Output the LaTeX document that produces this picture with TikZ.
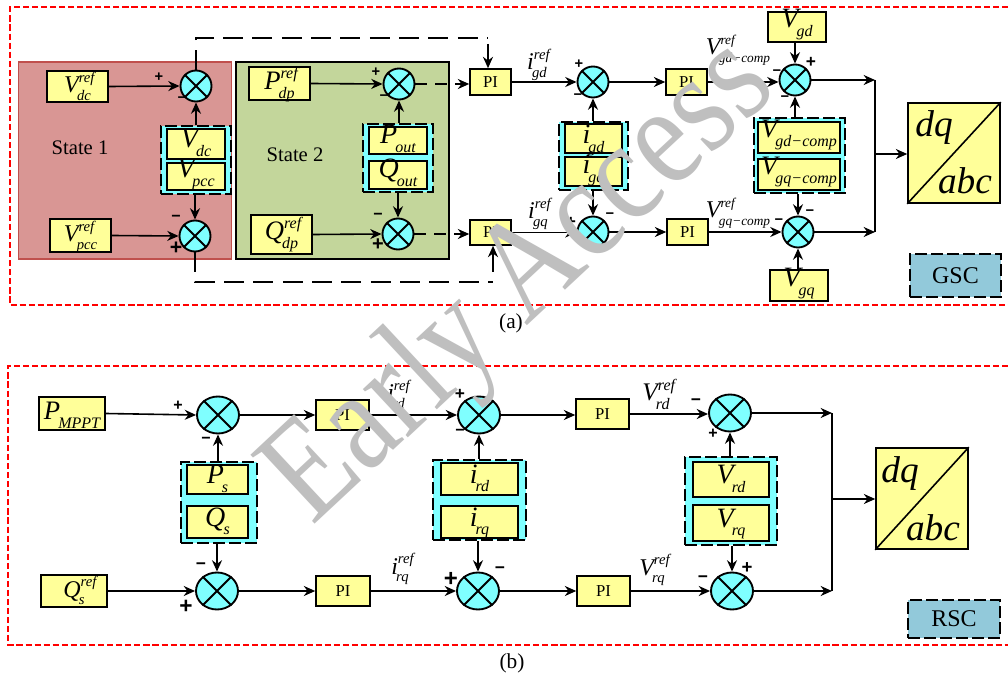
\documentclass[tikz,border=0pt]{standalone}
\usepackage{fontspec}
\setmainfont{Liberation Serif}
\newfontfamily\sgnfont{Liberation Sans}
\usetikzlibrary{arrows.meta,shapes.geometric}
\definecolor{cy}{HTML}{7FFFFF}
\definecolor{yb}{HTML}{FFFF99}
\definecolor{st1}{HTML}{D99694}
\definecolor{st1b}{HTML}{C0504D}
\definecolor{st2}{HTML}{C3D69B}
\definecolor{tag}{HTML}{92C9DA}
\definecolor{wm}{HTML}{BFBFBF}
\tikzset{
  ybox/.style={draw=black,fill=yb,line width=1.2pt,inner sep=0pt},
  grp/.style={draw=black,fill=cy,line width=1.3pt,dash pattern=on 9pt off 3pt,inner sep=0pt},
  tagbox/.style={draw=black,fill=tag,line width=1.3pt,dash pattern=on 9pt off 3pt,inner sep=0pt,font=\fontsize{18}{18}\selectfont},
  st1box/.style={draw=st1b,fill=st1,line width=1pt,inner sep=0pt},
  st2box/.style={draw=black,fill=st2,line width=1.2pt,inner sep=0pt},
  pibox/.style={ybox,font=\fontsize{12.5}{13}\selectfont},
  frame/.style={draw=red,line width=1.7pt,dash pattern=on 4.6pt off 2.2pt},
  conn/.style={line width=1.2pt,-{Stealth[length=8.5pt,width=7.5pt]}},
  plainl/.style={line width=1.2pt},
  dashl/.style={line width=1.2pt,dash pattern=on 15pt off 7pt},
  dasharr/.style={conn,dash pattern=on 9pt off 6pt},
  sumn/.style={ellipse,draw=black,fill=cy,line width=1.4pt,inner sep=0pt},
  capt/.style={font=\fontsize{16}{16}\selectfont,inner sep=0pt},
  free/.style={inner sep=0pt},
}
% coordinates are pixels of the reference
\newcommand{\mybx}[7]{%
  \pgfmathsetmacro\bxcx{(#3+#5)/2}\pgfmathsetmacro\bxcy{(#4+#6)/2}%
  \pgfmathsetmacro\bxw{(#5-#3)*0.75}\pgfmathsetmacro\bxh{(#6-#4)*0.75}%
  \node[#1,minimum width=\bxw pt,minimum height=\bxh pt] (#2) at (\bxcx,\bxcy) {#7};}
\newcommand{\mysum}[5]{%
  \pgfmathsetmacro\bxw{#4*0.75}\pgfmathsetmacro\bxh{#5*0.75}%
  \node[sumn,minimum width=\bxw pt,minimum height=\bxh pt] (#1) at (#2,#3) {};
  \draw[line width=1.4pt] (#1.45) -- (#1.225) (#1.135) -- (#1.315);}
\newcommand{\mysg}[5]{\node[inner sep=0pt,font=\sgnfont\bfseries\fontsize{#4}{#4}\selectfont] (#1) at (#2,#3) {#5};}
% text with sub/superscripts: baseline set dy px below the node centre; no height of its own
\newcommand{\lbx}[6]{% bsize ssize base sup sub dy
  \raisebox{\dimexpr -#6\dimexpr 0.75pt\relax\relax}[0pt][0pt]{\itshape
    \fontsize{#1}{#1}\selectfont #3%
    \setbox0=\hbox{\fontsize{#2}{#2}\selectfont #4}%
    \setbox1=\hbox{\fontsize{#2}{#2}\selectfont\kern -0.12em #5}%
    \rlap{\raisebox{0.42em}{\box0}}\raisebox{-0.32em}{\box1}}}
\newcommand{\ra}[4][]{\lbx{18}{11}{#2}{#3}{#4}{#1}}
\newcommand{\ga}[3][8]{\lbx{21}{12}{#2}{}{#3}{#1}}
\begin{document}
\begin{tikzpicture}[x=0.75pt,y=-0.75pt]
\useasboundingbox (0,0) rectangle (1008,681);
\fill[white] (0,0) rectangle (1008,681);
% frames
\coordinate (fa1) at (1008,7); \coordinate (fa2) at (10,7); \coordinate (fa3) at (10,305); \coordinate (fa4) at (1008,305);
\draw[frame] (fa1) -- (fa2) -- (fa3) -- (fa4);
\coordinate (fb1) at (1008,366); \coordinate (fb2) at (8,366); \coordinate (fb3) at (8,645); \coordinate (fb4) at (1008,645);
\draw[frame] (fb1) -- (fb2) -- (fb3) -- (fb4);
% states
\mybx{st1box}{stA}{18.5}{62}{231.5}{259}{}
\mybx{st2box}{stB}{236}{62}{449}{259}{}
\node[free,font=\fontsize{15.5}{16}\selectfont] (stAt) at (80,148) {State 1};
\node[free,font=\fontsize{15.5}{16}\selectfont] (stBt) at (295,155) {State 2};
% ---------- panel (a)
\mybx{ybox}{vdcr}{47}{71}{108}{102}{\ra[6]{V}{ref}{dc}}
\mybx{ybox}{vpcr}{50}{219}{111}{252}{\ra[6]{V}{ref}{pcc}}
\mybx{grp}{g1}{161}{126}{231}{194}{}
\mybx{ybox}{vdc}{167}{129}{225}{159}{\ga[4]{V}{dc}}
\mybx{ybox}{vpc}{167}{163}{225}{190}{\ga[1]{V}{pcc}}
\mysum{sA}{196}{86}{31}{31}
\mysum{sB}{195}{236}{31}{31}
\mybx{ybox}{pdr}{249}{67}{310}{100}{\lbx{20}{12}{P}{ref}{dp}{6}}
\mybx{ybox}{qdr}{251}{215}{312}{254}{\lbx{20}{12}{Q}{ref}{dp}{5}}
\mybx{grp}{g2}{363}{124}{433}{192}{}
\mybx{ybox}{pou}{369}{127}{427}{154}{\ga[3]{P}{out}}
\mybx{ybox}{qou}{369}{161}{427}{189}{\ga[3]{Q}{out}}
\mysum{sC}{399}{84}{31}{31}
\mysum{sD}{398}{234}{31}{31}
\mybx{pibox}{pi1}{470}{69}{511}{95}{PI}
\mybx{pibox}{pi2}{470}{220}{511}{245}{PI}
\mysum{sE}{593}{82}{31}{31}
\mysum{sG}{593}{232}{31}{31}
\mybx{grp}{g3}{559}{122}{628}{190}{}
\mybx{ybox}{igd}{565}{124}{622}{153}{\ga[5]{i}{gd}}
\mybx{ybox}{igq}{565}{157}{622}{186}{\ga[2]{i}{gq}}
\mybx{pibox}{pi3}{666}{69}{707}{95}{PI}
\mybx{pibox}{pi4}{667}{219}{708}{245}{PI}
\mysum{sF}{795}{80}{31}{31}
\mysum{sH}{798}{232}{31}{31}
\mybx{ybox}{vgd}{768}{12}{826}{42}{\ga[1]{V}{gd}}
\mybx{ybox}{vgq}{770}{270}{828}{301}{\ga[1]{V}{gq}}
\mybx{grp}{g4}{754}{118}{845}{193}{}
\mybx{ybox}{vgc}{758}{122}{840}{153}{\lbx{20}{12}{V}{}{gd−comp}{0}}
\mybx{ybox}{vqc}{758}{159}{840}{190}{\lbx{20}{12}{V}{}{gq−comp}{0}}
\mybx{ybox}{dq1}{908}{103}{1000}{203}{}
\node[free,font=\itshape\fontsize{28}{28}\selectfont,anchor=base] (dq1a) at (934,137) {dq};
\node[free,font=\itshape\fontsize{28}{28}\selectfont,anchor=base] (dq1b) at (965,194) {abc};
\draw[line width=1.2pt] (dq1.south west) -- (dq1.north east);
\mybx{tagbox}{gsc}{910}{254}{1001}{297}{GSC}
\node[capt] (capa) at (511,323) {(a)};
% labels
\node[free] (l1) at (537,70) {\lbx{18}{11}{i}{ref}{gd}{0}};
\node[free] (l2) at (538,219) {\lbx{18}{11}{i}{ref}{gq}{0}};
\node[free] (l3) at (738,55) {\lbx{18}{10}{V}{ref}{gd−comp}{0}};
\node[free] (l4) at (738,218) {\lbx{18}{10}{V}{ref}{gq−comp}{0}};
% connectors (a)
\draw[conn] (vdcr.east) -- (sA.west);
\draw[conn] (vpcr.east) -- (sB.west);
\draw[conn] (g1.north -| sA) -- (sA.south);
\draw[conn] (g1.south -| sB) -- (sB.north);
\draw[conn] (pdr.east) -- (sC.west);
\draw[conn] (qdr.east) -- (sD.west);
\draw[conn] (g2.north -| sC) -- (sC.south);
\draw[conn] (g2.south -| sD) -- (sD.north);
\draw[dasharr] (sC.east) -- (sC.east -| pi1.west);
\draw[dasharr] (sD.east) -- (sD.east -| pi2.west);
\coordinate (t1) at (488,44); \coordinate (t2) at (488,38);
\coordinate (b1) at (493,272); \coordinate (b2) at (493,282);
\draw[dashl] (sA.north) -- (sA.north |- t2) -- (t2);
\draw[dashl] (sB.south) -- (sB.south |- b2) -- (b2);
\draw[conn] (t1) -- (t1 |- pi1.north);
\draw[conn] (b1) -- (b1 |- pi2.south);
\draw[conn] (pi1.east) -- (pi1.east -| sE.west);
\draw[conn] (pi2.east) -- (pi2.east -| sG.west);
\draw[conn] (sE.east) -- (sE.east -| pi3.west);
\draw[conn] (sG.east) -- (sG.east -| pi4.west);
\draw[conn] (pi3.east) -- (pi3.east -| sF.west);
\draw[conn] (pi4.east) -- (pi4.east -| sH.west);
\draw[conn] (g3.north -| sE) -- (sE.south);
\draw[conn] (g3.south -| sG) -- (sG.north);
\draw[conn] (vgd.south -| sF) -- (sF.north);
\draw[conn] (vgq.north -| sH) -- (sH.south);
\draw[conn] (g4.north -| sF) -- (sF.south);
\draw[conn] (g4.south -| sH) -- (sH.north);
\coordinate (ja) at (875,154);
\draw[conn] (sF.east) -- (sF.east -| ja);
\draw[conn] (sH.east) -- (sH.east -| ja);
\draw[plainl] (sF.east -| ja) -- (sH.east -| ja);
\draw[conn] (ja) -- (ja -| dq1.west);
% signs (a)
\mysg{a1}{159}{77}{11}{+}\mysg{a2}{182}{100}{11}{−}
\mysg{a3}{176}{218}{12}{−}\mysg{a4}{176}{248}{16}{+}
\mysg{a5}{376}{72}{11}{+}\mysg{a6}{384}{98}{11}{−}
\mysg{a7}{378}{216}{12}{−}\mysg{a8}{378}{245}{15}{+}
\mysg{a9}{579}{64}{11}{+}\mysg{a10}{578}{97}{11}{−}
\mysg{a11}{811}{62}{13}{+}\mysg{a12}{777}{73}{11}{−}\mysg{a13}{785}{99}{11}{−}
\mysg{a14}{571}{222}{13}{+}\mysg{a15}{610}{216}{11}{−}
\mysg{a16}{779}{222}{11}{−}\mysg{a17}{810}{213}{11}{−}
% ---------- panel (b)
\mybx{ybox}{pm}{39}{397}{105}{430}{\lbx{20}{12}{P}{}{MPPT}{6}}
\mybx{ybox}{qsr}{41}{575}{107}{607}{\ra[6]{Q}{ref}{s}}
\mysum{s1}{218}{415}{42}{37}
\mysum{s2}{217}{591}{42}{37}
\mybx{grp}{g5}{181}{462}{257}{543}{}
\mybx{ybox}{ps}{187}{465}{248}{494}{\ga[4]{P}{s}}
\mybx{ybox}{qs}{187}{506}{248}{538}{\ga[4]{Q}{s}}
\mybx{pibox}{pi5}{316}{400}{369}{430}{PI}
\mybx{pibox}{pi6}{316}{576}{370}{606}{PI}
\mysum{s3}{479}{415}{42}{37}
\mysum{s4}{478}{591}{42}{37}
\mybx{grp}{g6}{433}{460}{526}{540}{}
\mybx{ybox}{ird}{441}{463}{518}{495}{\ga[4]{i}{rd}}
\mybx{ybox}{irq}{441}{506}{518}{538}{\ga[4]{i}{rq}}
\mybx{pibox}{pi7}{576}{399}{629}{429}{PI}
\mybx{pibox}{pi8}{577}{576}{630}{606}{PI}
\mysum{s5}{730}{413}{42}{37}
\mysum{s6}{732}{591}{42}{37}
\mybx{grp}{g7}{685}{457}{777}{545}{}
\mybx{ybox}{vrd}{693}{462}{769}{497}{\ga[4]{V}{rd}}
\mybx{ybox}{vrq}{693}{505}{769}{541}{\ga[4]{V}{rq}}
\mybx{ybox}{dq2}{876}{448}{968}{549}{}
\node[free,font=\itshape\fontsize{28}{28}\selectfont,anchor=base] (dq2a) at (900,482) {dq};
\node[free,font=\itshape\fontsize{28}{28}\selectfont,anchor=base] (dq2b) at (933,540) {abc};
\draw[line width=1.2pt] (dq2.south west) -- (dq2.north east);
\mybx{tagbox}{rsc}{908}{600}{1000}{638}{RSC}
\node[capt] (capb) at (512,663) {(b)};
\node[free] (l5) at (396,401) {\lbx{18}{11}{i}{ref}{rd}{0}};
\node[free] (l6) at (400,574) {\lbx{18}{11}{i}{ref}{rq}{0}};
\node[free] (l7) at (656,401) {\lbx{19}{12}{V}{ref}{rd}{0}};
\node[free] (l8) at (652,575) {\lbx{18}{11}{V}{ref}{rq}{0}};
% connectors (b)
\draw[conn] (pm.east) -- (s1.west);
\draw[conn] (qsr.east) -- (s2.west);
\draw[conn] (g5.north -| s1) -- (s1.south);
\draw[conn] (g5.south -| s2) -- (s2.north);
\draw[conn] (s1.east) -- (s1.east -| pi5.west);
\draw[conn] (s2.east) -- (s2.east -| pi6.west);
\draw[conn] (pi5.east) -- (pi5.east -| s3.west);
\draw[conn] (pi6.east) -- (pi6.east -| s4.west);
\draw[conn] (g6.north -| s3) -- (s3.south);
\draw[conn] (g6.south -| s4) -- (s4.north);
\draw[conn] (s3.east) -- (s3.east -| pi7.west);
\draw[conn] (s4.east) -- (s4.east -| pi8.west);
\draw[conn] (pi7.east) -- (pi7.east -| s5.west);
\draw[conn] (pi8.east) -- (pi8.east -| s6.west);
\draw[conn] (g7.north -| s5) -- (s5.south);
\draw[conn] (g7.south -| s6) -- (s6.north);
\coordinate (jb) at (832,499);
\draw[conn] (s5.east) -- (s5.east -| jb);
\draw[conn] (s6.east) -- (s6.east -| jb);
\draw[plainl] (s5.east -| jb) -- (s6.east -| jb);
\draw[conn] (jb) -- (jb -| dq2.west);
% signs (b)
\mysg{b1}{178}{406}{12}{+}\mysg{b2}{206}{440}{12}{−}
\mysg{b3}{201}{566}{13}{−}\mysg{b4}{186}{607}{17}{+}
\mysg{b5}{460}{394}{13}{+}\mysg{b6}{460}{432}{12}{−}
\mysg{b7}{451}{579}{18}{+}\mysg{b8}{500}{570}{13}{−}
\mysg{b9}{696}{402}{13}{−}\mysg{b10}{713}{434}{12}{+}
\mysg{b11}{703}{579}{13}{−}\mysg{b12}{747}{568}{14}{+}
% watermark
\node[inner sep=0pt,text=wm,rotate=43,xscale=0.93,yscale=1.1,font=\fontsize{98}{98}\selectfont] (wmk) at (522,284) {Early Access};
\end{tikzpicture}
\end{document}
